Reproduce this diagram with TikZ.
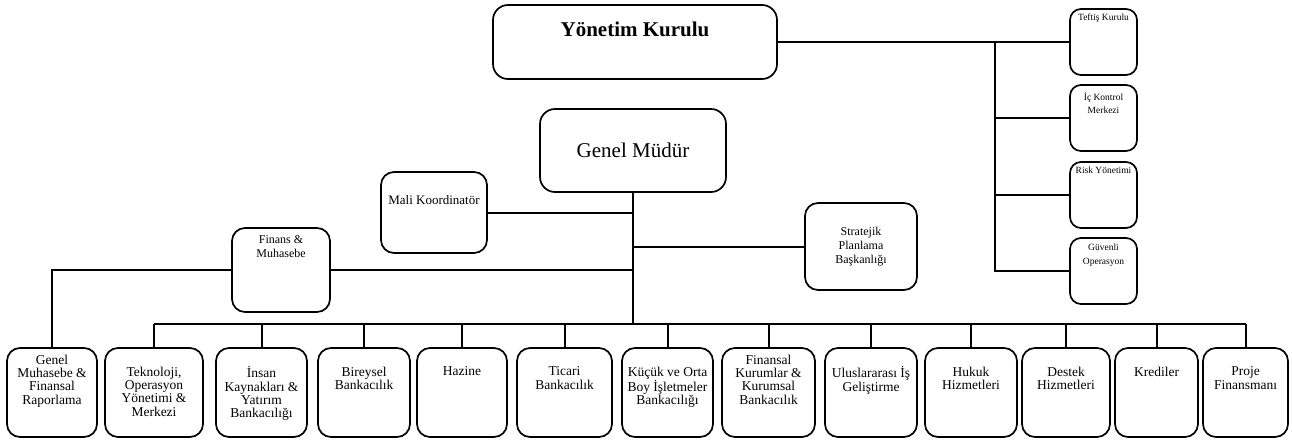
\documentclass[tikz,border=0pt]{standalone}
\usepackage{fontspec}
\setmainfont{Liberation Serif}
\usetikzlibrary{calc}
\newcommand{\obox}[7][]{\node[box,#1,minimum width={#5-#3},minimum height={#6-#4}] (#2) at ({(#3+#5)/2},{(#4+#6)/2}) {#7};}
\begin{document}
\begin{tikzpicture}[x=1pt,y=-1pt,
  box/.style={draw,line width=1.7pt,rounded corners=13pt,inner sep=0pt},
  conn/.style={line width=2pt},
  btxt/.style={inner sep=0pt,anchor=north,align=center,font=\fontsize{13.5}{13.3}\selectfont},
  stxt/.style={inner sep=0pt,anchor=north,align=center,font=\fontsize{9.5}{13.5}\selectfont},
  mtxt/.style={inner sep=0pt,align=center,font=\fontsize{12}{14}\selectfont}]
\useasboundingbox (0,0) rectangle (1292,442);

% --- board and its units
\obox[rounded corners=15pt]{yk}{493}{5}{777}{79}{}
\node[inner sep=0pt,font=\fontsize{21}{25}\selectfont\bfseries] (ykt) at (635,29) {Yönetim Kurulu};

\obox[rounded corners=11pt]{tk}{1070}{9}{1137}{75}{}
\obox[rounded corners=11pt]{ik}{1070}{85}{1137}{151}{}
\obox[rounded corners=11pt]{rk}{1070}{162}{1137}{228}{}
\obox[rounded corners=11pt]{go}{1070}{238}{1137}{304}{}
\node[stxt] (tkt) at ($(tk.north)+(0,5)$) {Teftiş Kurulu};
\node[stxt] (ikt) at ($(ik.north)+(0,8)$) {İç Kontrol\\Merkezi};
\node[stxt] (rkt) at ($(rk.north)+(0,6)$) {Risk Yönetimi};
\node[stxt] (got) at ($(go.north)+(0,7)$) {Güvenli\\Operasyon};

% --- general manager and staff
\obox[rounded corners=15pt,font=\fontsize{21}{25}\selectfont]{gm}{540}{109}{726}{192}{Genel Müdür}
\obox{mk}{381}{172}{487}{253}{}
\node[inner sep=0pt,font=\fontsize{13}{15}\selectfont] (mkt) at (434,200) {Mali Koordinatör};
\obox{fm}{232}{228}{330}{312}{}
\node[mtxt,anchor=north] (fmt) at ($(fm.north)+(0,8)$) {Finans \&\\Muhasebe};
\obox[mtxt]{sp}{805}{203}{917}{290}{Stratejik\\Planlama\\Başkanlığı}

% --- bottom row
\obox{b1}{7}{348}{97}{437}{}
\obox{b2}{105}{348}{203}{437}{}
\obox{b3}{216}{348}{307}{437}{}
\obox{b4}{318}{348}{410}{437}{}
\obox{b5}{417}{348}{507}{437}{}
\obox{b6}{517}{348}{612}{437}{}
\obox{b7}{622}{348}{713}{437}{}
\obox{b8}{722}{348}{815}{437}{}
\obox{b9}{825}{348}{917}{437}{}
\obox{b10}{925}{348}{1017}{437}{}
\obox{b11}{1022}{348}{1110}{437}{}
\obox{b12}{1115}{348}{1198}{437}{}
\obox{b13}{1203}{348}{1288}{437}{}

\node[btxt] (t1) at ($(b1.north)+(0,7.5)$) {Genel\\Muhasebe \&\\Finansal\\Raporlama};
\node[btxt] (t2) at ($(b2.north)+(0,19.5)$) {Teknoloji,\\Operasyon\\Yönetimi \&\\Merkezi};
\node[btxt] (t3) at ($(b3.north)+(0,19.5)$) {İnsan\\Kaynakları \&\\Yatırım\\Bankacılığı};
\node[btxt] (t4) at ($(b4.north)+(0,19.5)$) {Bireysel\\Bankacılık};
\node[btxt] (t5) at ($(b5.north)+(0,19.5)$) {Hazine};
\node[btxt] (t6) at ($(b6.north)+(0,19.5)$) {Ticari\\Bankacılık};
\node[btxt] (t7) at ($(b7.north)+(0,19.5)$) {Küçük ve Orta\\Boy İşletmeler\\Bankacılığı};
\node[btxt] (t8) at ($(b8.north)+(0,7.5)$) {Finansal\\Kurumlar \&\\Kurumsal\\Bankacılık};
\node[btxt] (t9) at ($(b9.north)+(0,19.5)$) {Uluslararası İş\\Geliştirme};
\node[btxt] (t10) at ($(b10.north)+(0,19.5)$) {Hukuk\\Hizmetleri};
\node[btxt] (t11) at ($(b11.north)+(0,19.5)$) {Destek\\Hizmetleri};
\node[btxt] (t12) at ($(b12.north)+(0,19.5)$) {Krediler};
\node[btxt] (t13) at ($(b13.north)+(0,19.5)$) {Proje\\Finansmanı};

% --- connectors
\coordinate (rv) at (995,42);
\coordinate (bus) at (633,324);
\draw[conn] (yk.east) -- (tk.west);
\draw[conn] (rv) |- (go.west);
\draw[conn] (rv |- ik.west) -- (ik.west);
\draw[conn] (rv |- rk.west) -- (rk.west);

\draw[conn] (gm.south) -- (bus);
\draw[conn] (mk.east) -- (mk.east -| gm.south);
\draw[conn] (sp.west) -- (sp.west -| gm.south);
\draw[conn] (fm.east) -- (fm.east -| gm.south);
\draw[conn] (fm.west) -| (b1.north);

\draw[conn] (b2.north |- bus) -- (b13.north |- bus);
\foreach \b in {b2,b3,b4,b5,b6,b7,b8,b9,b10,b11,b12,b13}
  \draw[conn] (\b.north |- bus) -- (\b.north);
\end{tikzpicture}
\end{document}
